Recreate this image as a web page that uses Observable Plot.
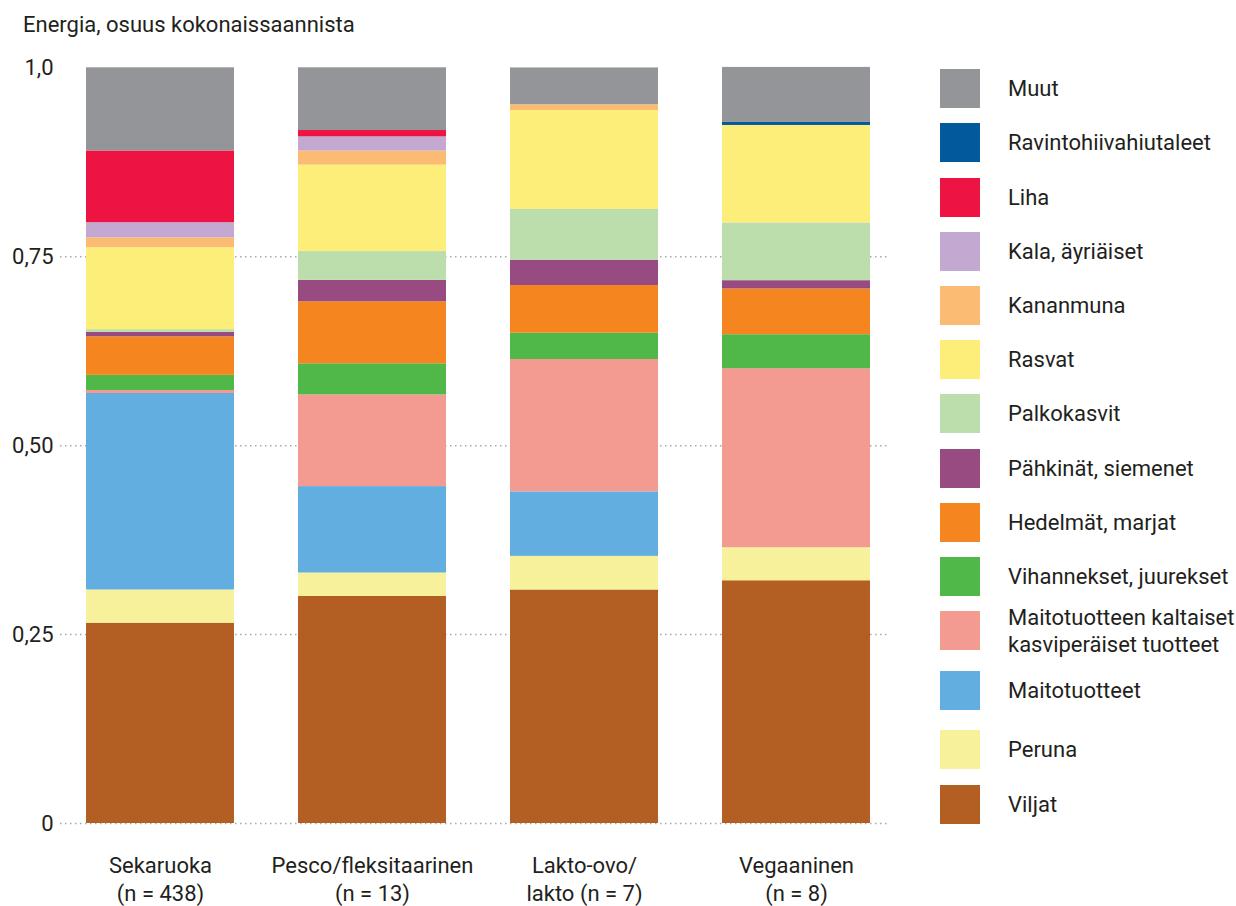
<!DOCTYPE html>
<html><head><meta charset="utf-8">
<script src="https://cdn.jsdelivr.net/npm/d3@7"></script>
<script src="https://cdn.jsdelivr.net/npm/@observablehq/plot@0.6"></script>
<style>
body{margin:0;background:#fff;font-family:Roboto,sans-serif;color:#231f20;}
#wrap{position:relative;width:1236px;height:906px;overflow:hidden;}
#title{position:absolute;left:23px;top:11px;font-size:22px;line-height:28px;}
#chart{position:absolute;left:0;top:0;}
#legend{position:absolute;left:940px;top:61.6px;}
.row{display:flex;align-items:center;height:54.2px;}
.sw{width:40px;height:39px;flex-shrink:0;}
.lab{margin-left:28px;font-size:22px;line-height:27px;white-space:pre;}
</style></head><body>
<div id="wrap"><div id="chart"></div><div id="title">Energia, osuus kokonaissaannista</div><div id="legend"></div></div>
<script>
// Groups (x categories)
const groups = ["Sekaruoka\n(n = 438)", "Pesco/fleksitaarinen\n(n = 13)", "Lakto-ovo/\nlakto (n = 7)", "Vegaaninen\n(n = 8)"];
// Food categories, bottom of stack first
const categories = ["Viljat", "Peruna", "Maitotuotteet", "Maitotuotteen kaltaiset kasviperäiset tuotteet",
  "Vihannekset, juurekset", "Hedelmät, marjat", "Pähkinät, siemenet", "Palkokasvit", "Rasvat",
  "Kananmuna", "Kala, äyriäiset", "Liha", "Ravintohiivahiutaleet", "Muut"];
const colors = ["#b35e22", "#f6f19a", "#62aee0", "#f39a91", "#4fb848", "#f5861f", "#984b80", "#bcdeac",
  "#fdee7a", "#fbbb73", "#c3a9d1", "#ed1443", "#005a9c", "#939598"];
// Energy share per category (same order as categories)
const sekaruoka   = [0.265, 0.044, 0.260, 0.004, 0.020, 0.051, 0.006, 0.0035, 0.1085, 0.013, 0.020, 0.095, 0, 0.110];
const pesco       = [0.3005, 0.031, 0.1143, 0.1214, 0.0411, 0.082, 0.0285, 0.038, 0.1144, 0.0186, 0.0188, 0.0084, 0, 0.083];
const lakto       = [0.309, 0.0445, 0.0853, 0.1752, 0.0348, 0.0631, 0.0335, 0.0671, 0.1310, 0.0076, 0, 0, 0, 0.0487];
const vegaaninen  = [0.3212, 0.0437, 0, 0.2369, 0.045, 0.0605, 0.011, 0.0764, 0.1290, 0, 0, 0, 0.004, 0.0728];
const series = [sekaruoka, pesco, lakto, vegaaninen];
// Axis ticks
const yTicks = [0, 0.25, 0.5, 0.75, 1];
const yTickLabels = ["0", "0,25", "0,50", "0,75", "1,0"];
const gridTicks = [0, 0.25, 0.5, 0.75];

const rows = categories.flatMap((c, i) => groups.map((g, j) => ({group: g, category: c, value: series[j][i]})));

const plot = Plot.plot({
  width: 900, height: 906,
  marginLeft: 60, marginRight: 10, marginTop: 67.3, marginBottom: 83,
  style: {fontFamily: "Roboto, sans-serif", fontSize: "22px", color: "#231f20", background: "transparent", overflow: "visible"},
  x: {domain: groups, paddingInner: 0.3025, paddingOuter: 0.107, align: 0.57, label: null},
  y: {domain: [0, 1], label: null},
  color: {domain: categories, range: colors},
  marks: [
    Plot.gridY(gridTicks, {stroke: "#a8a8a8", strokeOpacity: 1, strokeWidth: 1.5, strokeDasharray: "1.5,3.5"}),
    Plot.barY(rows, Plot.stackY({order: categories}, {x: "group", y: "value", fill: "category", z: "category"})),
    Plot.axisY(yTicks, {tickSize: 0, tickPadding: 7, tickFormat: d => yTickLabels[yTicks.indexOf(d)], label: null}),
    Plot.axisX({tickSize: 0, tickPadding: 29, lineHeight: 1.3, label: null})
  ]
});
document.getElementById("chart").appendChild(plot);

// Legend from the plot's color scale, top item = top of stack
const colorScale = Plot.scale({color: plot.scale("color")});
const legendOrder = categories.slice().reverse();
const legend = d3.select("#legend");
legendOrder.forEach((c) => {
  const row = legend.append("div").attr("class", "row");
  if (c === "Maitotuotteet") row.style("margin-top", "6px");
  if (c === "Peruna") row.style("margin-top", "5px");
  row.append("div").attr("class", "sw").style("background", colorScale.apply(c));
  row.append("div").attr("class", "lab").text(c.replace("kaltaiset ", "kaltaiset\n"));
});
</script>
</body></html>
